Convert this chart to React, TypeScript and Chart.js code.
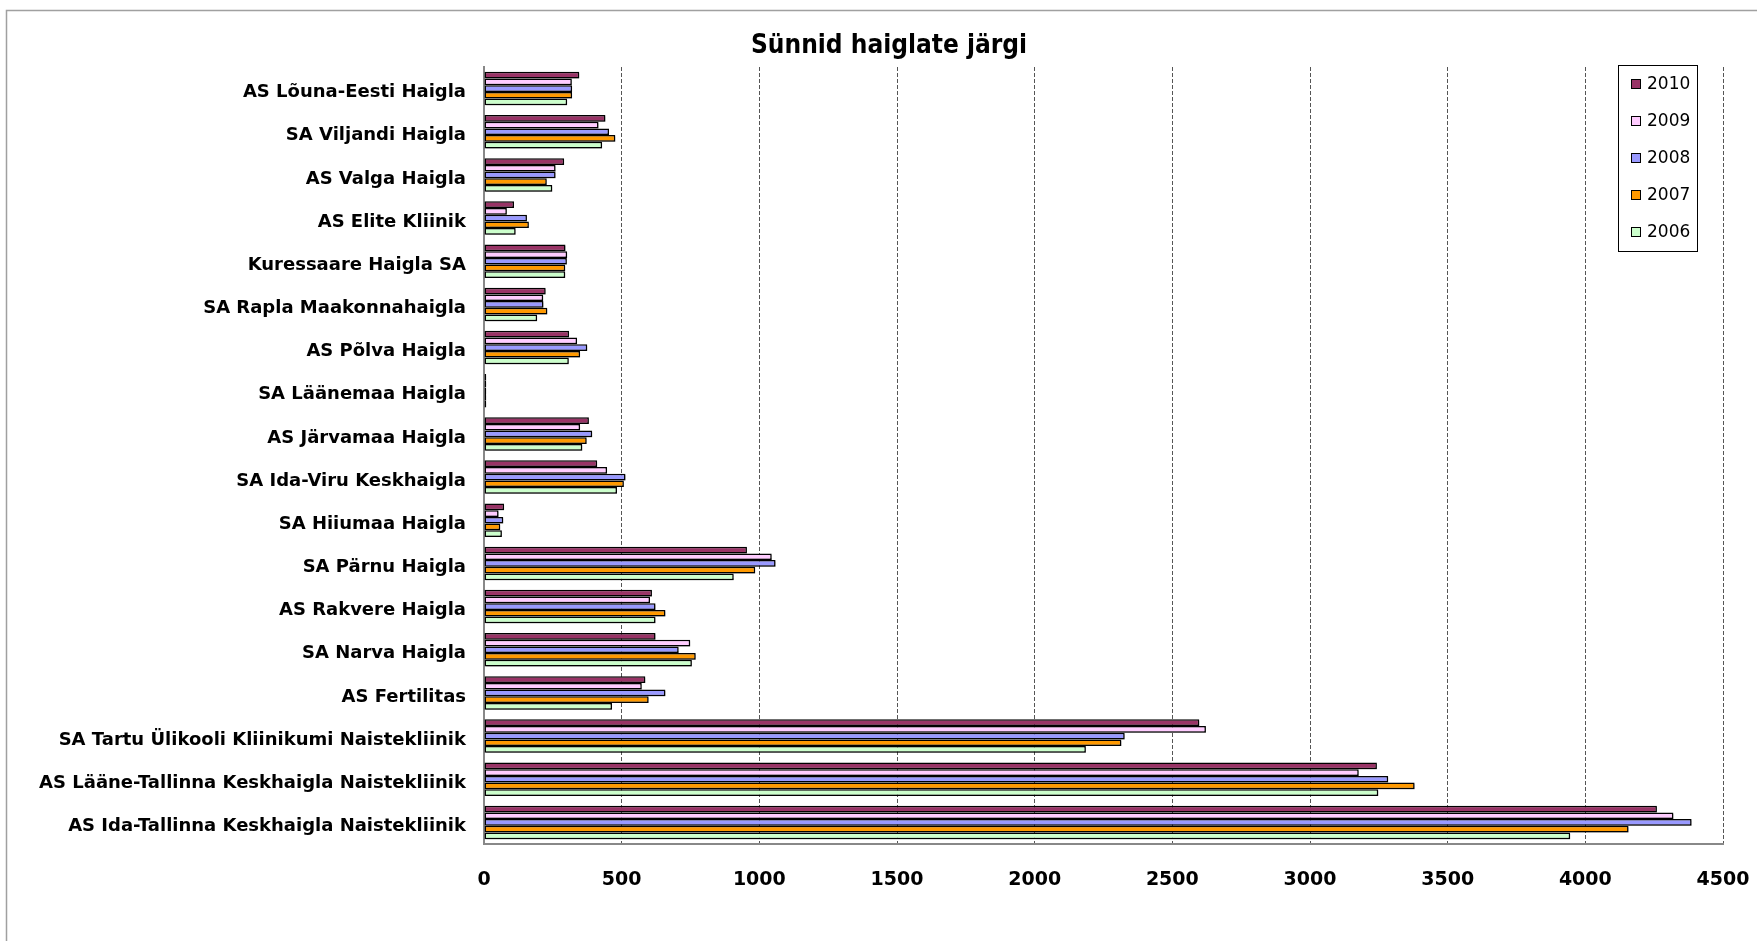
import React, { useEffect, useRef } from "react";
import { Chart, registerables } from "chart.js";

Chart.register(...registerables);

const TITLE = "Sünnid haiglate järgi";

const hospitals = [
  "AS Lõuna-Eesti Haigla",
  "SA Viljandi Haigla",
  "AS Valga Haigla",
  "AS Elite Kliinik",
  "Kuressaare Haigla SA",
  "SA Rapla Maakonnahaigla",
  "AS Põlva Haigla",
  "SA Läänemaa Haigla",
  "AS Järvamaa Haigla",
  "SA Ida-Viru Keskhaigla",
  "SA Hiiumaa Haigla",
  "SA Pärnu Haigla",
  "AS Rakvere Haigla",
  "SA Narva Haigla",
  "AS Fertilitas",
  "SA Tartu Ülikooli Kliinikumi Naistekliinik",
  "AS Lääne-Tallinna Keskhaigla Naistekliinik",
  "AS Ida-Tallinna Keskhaigla Naistekliinik",
];

const years = ["2010", "2009", "2008", "2007", "2006"];

const births2010 = [346, 441, 291, 109, 296, 224, 309, 8, 381, 411, 73, 955, 610, 623, 586, 2598, 3243, 4260];
const births2009 = [319, 416, 260, 83, 302, 215, 338, 8, 349, 447, 53, 1045, 603, 749, 573, 2622, 3177, 4320];
const births2008 = [320, 454, 260, 156, 301, 216, 375, 8, 393, 514, 70, 1059, 623, 707, 659, 2327, 3284, 4386];
const births2007 = [320, 477, 228, 163, 295, 230, 349, 8, 373, 508, 59, 985, 659, 769, 598, 2315, 3380, 4157];
const births2006 = [302, 429, 248, 115, 295, 193, 308, 8, 357, 483, 65, 907, 623, 755, 465, 2186, 3248, 3945];

const seriesValues = [births2010, births2009, births2008, births2007, births2006];
const seriesColors = ["#993366", "#FFCCFF", "#9999FF", "#FF9900", "#CCFFCC"];

const xTickMin = 0;
const xTickMax = 4500;
const xTickStep = 500;

const W = 1757;
const H = 941;

const framePlugin = {
  id: "frame",
  beforeDraw(chart: any) {
    const ctx = chart.ctx;
    ctx.save();
    ctx.fillStyle = "#ffffff";
    ctx.fillRect(0, 0, chart.width, chart.height);
    ctx.strokeStyle = "#a0a0a0";
    ctx.lineWidth = 1.5;
    ctx.strokeRect(6.5, 10.5, chart.width + 50, chart.height + 50);
    ctx.restore();
  },
  afterDraw(chart: any) {
    const ctx = chart.ctx;
    ctx.save();
    ctx.fillStyle = "#000";
    ctx.font = "bold 26px 'DejaVu Sans Condensed', 'DejaVu Sans', sans-serif";
    ctx.textAlign = "center";
    ctx.textBaseline = "alphabetic";
    ctx.fillText(TITLE, 889, 53);
    ctx.restore();
  },
};

const shadowPlugin = {
  id: "barShadow",
  beforeDatasetsDraw(chart: any) {
    const ctx = chart.ctx;
    ctx.save();
    ctx.shadowColor = "rgba(0,0,0,0.3)";
    ctx.shadowOffsetX = 1.5;
    ctx.shadowOffsetY = 1.5;
    ctx.shadowBlur = 1;
  },
  afterDatasetsDraw(chart: any) {
    chart.ctx.restore();
  },
};

const boxLegendPlugin = {
  id: "boxLegend",
  afterDatasetsDraw(chart: any) {
    const ctx = chart.ctx;
    const left = 1618;
    const top = 65;
    const w = 79;
    const h = 186;
    ctx.save();
    ctx.fillStyle = "#ffffff";
    ctx.fillRect(left, top, w, h);
    ctx.strokeStyle = "#000";
    ctx.lineWidth = 1;
    ctx.strokeRect(left + 0.5, top + 0.5, w, h);
    ctx.font = "17px 'DejaVu Sans', sans-serif";
    ctx.textBaseline = "middle";
    ctx.textAlign = "left";
    chart.data.datasets.forEach((ds: any, i: number) => {
      const cy = 84 + i * 37;
      ctx.fillStyle = ds.backgroundColor;
      ctx.fillRect(1631, cy - 5, 10, 10);
      ctx.strokeStyle = "#000";
      ctx.strokeRect(1631.5, cy - 4.5, 9, 9);
      ctx.fillStyle = "#000";
      ctx.fillText(ds.label, 1647, cy + 1);
    });
    ctx.restore();
  },
};

export default function App() {
  const ref = useRef<HTMLCanvasElement | null>(null);

  useEffect(() => {
    if (!ref.current) return;
    const chart = new Chart(ref.current, {
      type: "bar",
      data: {
        labels: hospitals,
        datasets: years.map((y, i) => ({
          label: y,
          data: seriesValues[i],
          backgroundColor: seriesColors[i],
          borderColor: "#000000",
          borderWidth: 1.5,
          borderSkipped: false,
          categoryPercentage: 0.775,
          barPercentage: 1.0,
        })),
      },
      options: {
        indexAxis: "y",
        animation: false,
        responsive: false,
        maintainAspectRatio: false,
        layout: { padding: { left: 0, right: 34, top: 67, bottom: 0 } },
        plugins: {
          legend: { display: false },
          title: { display: false },
          tooltip: { enabled: false },
        },
        scales: {
          x: {
            type: "linear",
            min: xTickMin,
            max: xTickMax,
            ticks: {
              stepSize: xTickStep,
              color: "#000",
              padding: 25,
              font: { family: "'DejaVu Sans', sans-serif", size: 19, weight: "bold" },
              callback: (v: any) => String(v),
            },
            grid: {
              drawTicks: false,
              color: (c: any) => (c.tick && c.tick.value === 0 ? "rgba(0,0,0,0)" : "#555555"),
              lineWidth: 1,
            },
            border: { display: true, color: "#888888", width: 2, dash: [4, 2] },
            afterFit(scale: any) {
              scale.height = 97;
              scale.paddingLeft = 0;
              scale.paddingRight = 0;
            },
          },
          y: {
            type: "category",
            ticks: {
              color: "#000",
              padding: 18,
              labelOffset: 4,
              font: { family: "'DejaVu Sans', sans-serif", size: 18, weight: "bold" },
            },
            grid: { display: true, drawOnChartArea: false, drawTicks: false },
            border: { display: true, color: "#888888", width: 2 },
            afterFit(scale: any) {
              scale.width = 484;
              scale.paddingTop = 0;
              scale.paddingBottom = 0;
            },
          },
        },
      },
      plugins: [framePlugin, shadowPlugin, boxLegendPlugin],
    });
    return () => chart.destroy();
  }, []);

  return (
    <div style={{ position: "absolute", left: 0, top: 0, width: W, height: H }}>
      <canvas ref={ref} width={W} height={H} style={{ display: "block" }} />
    </div>
  );
}
